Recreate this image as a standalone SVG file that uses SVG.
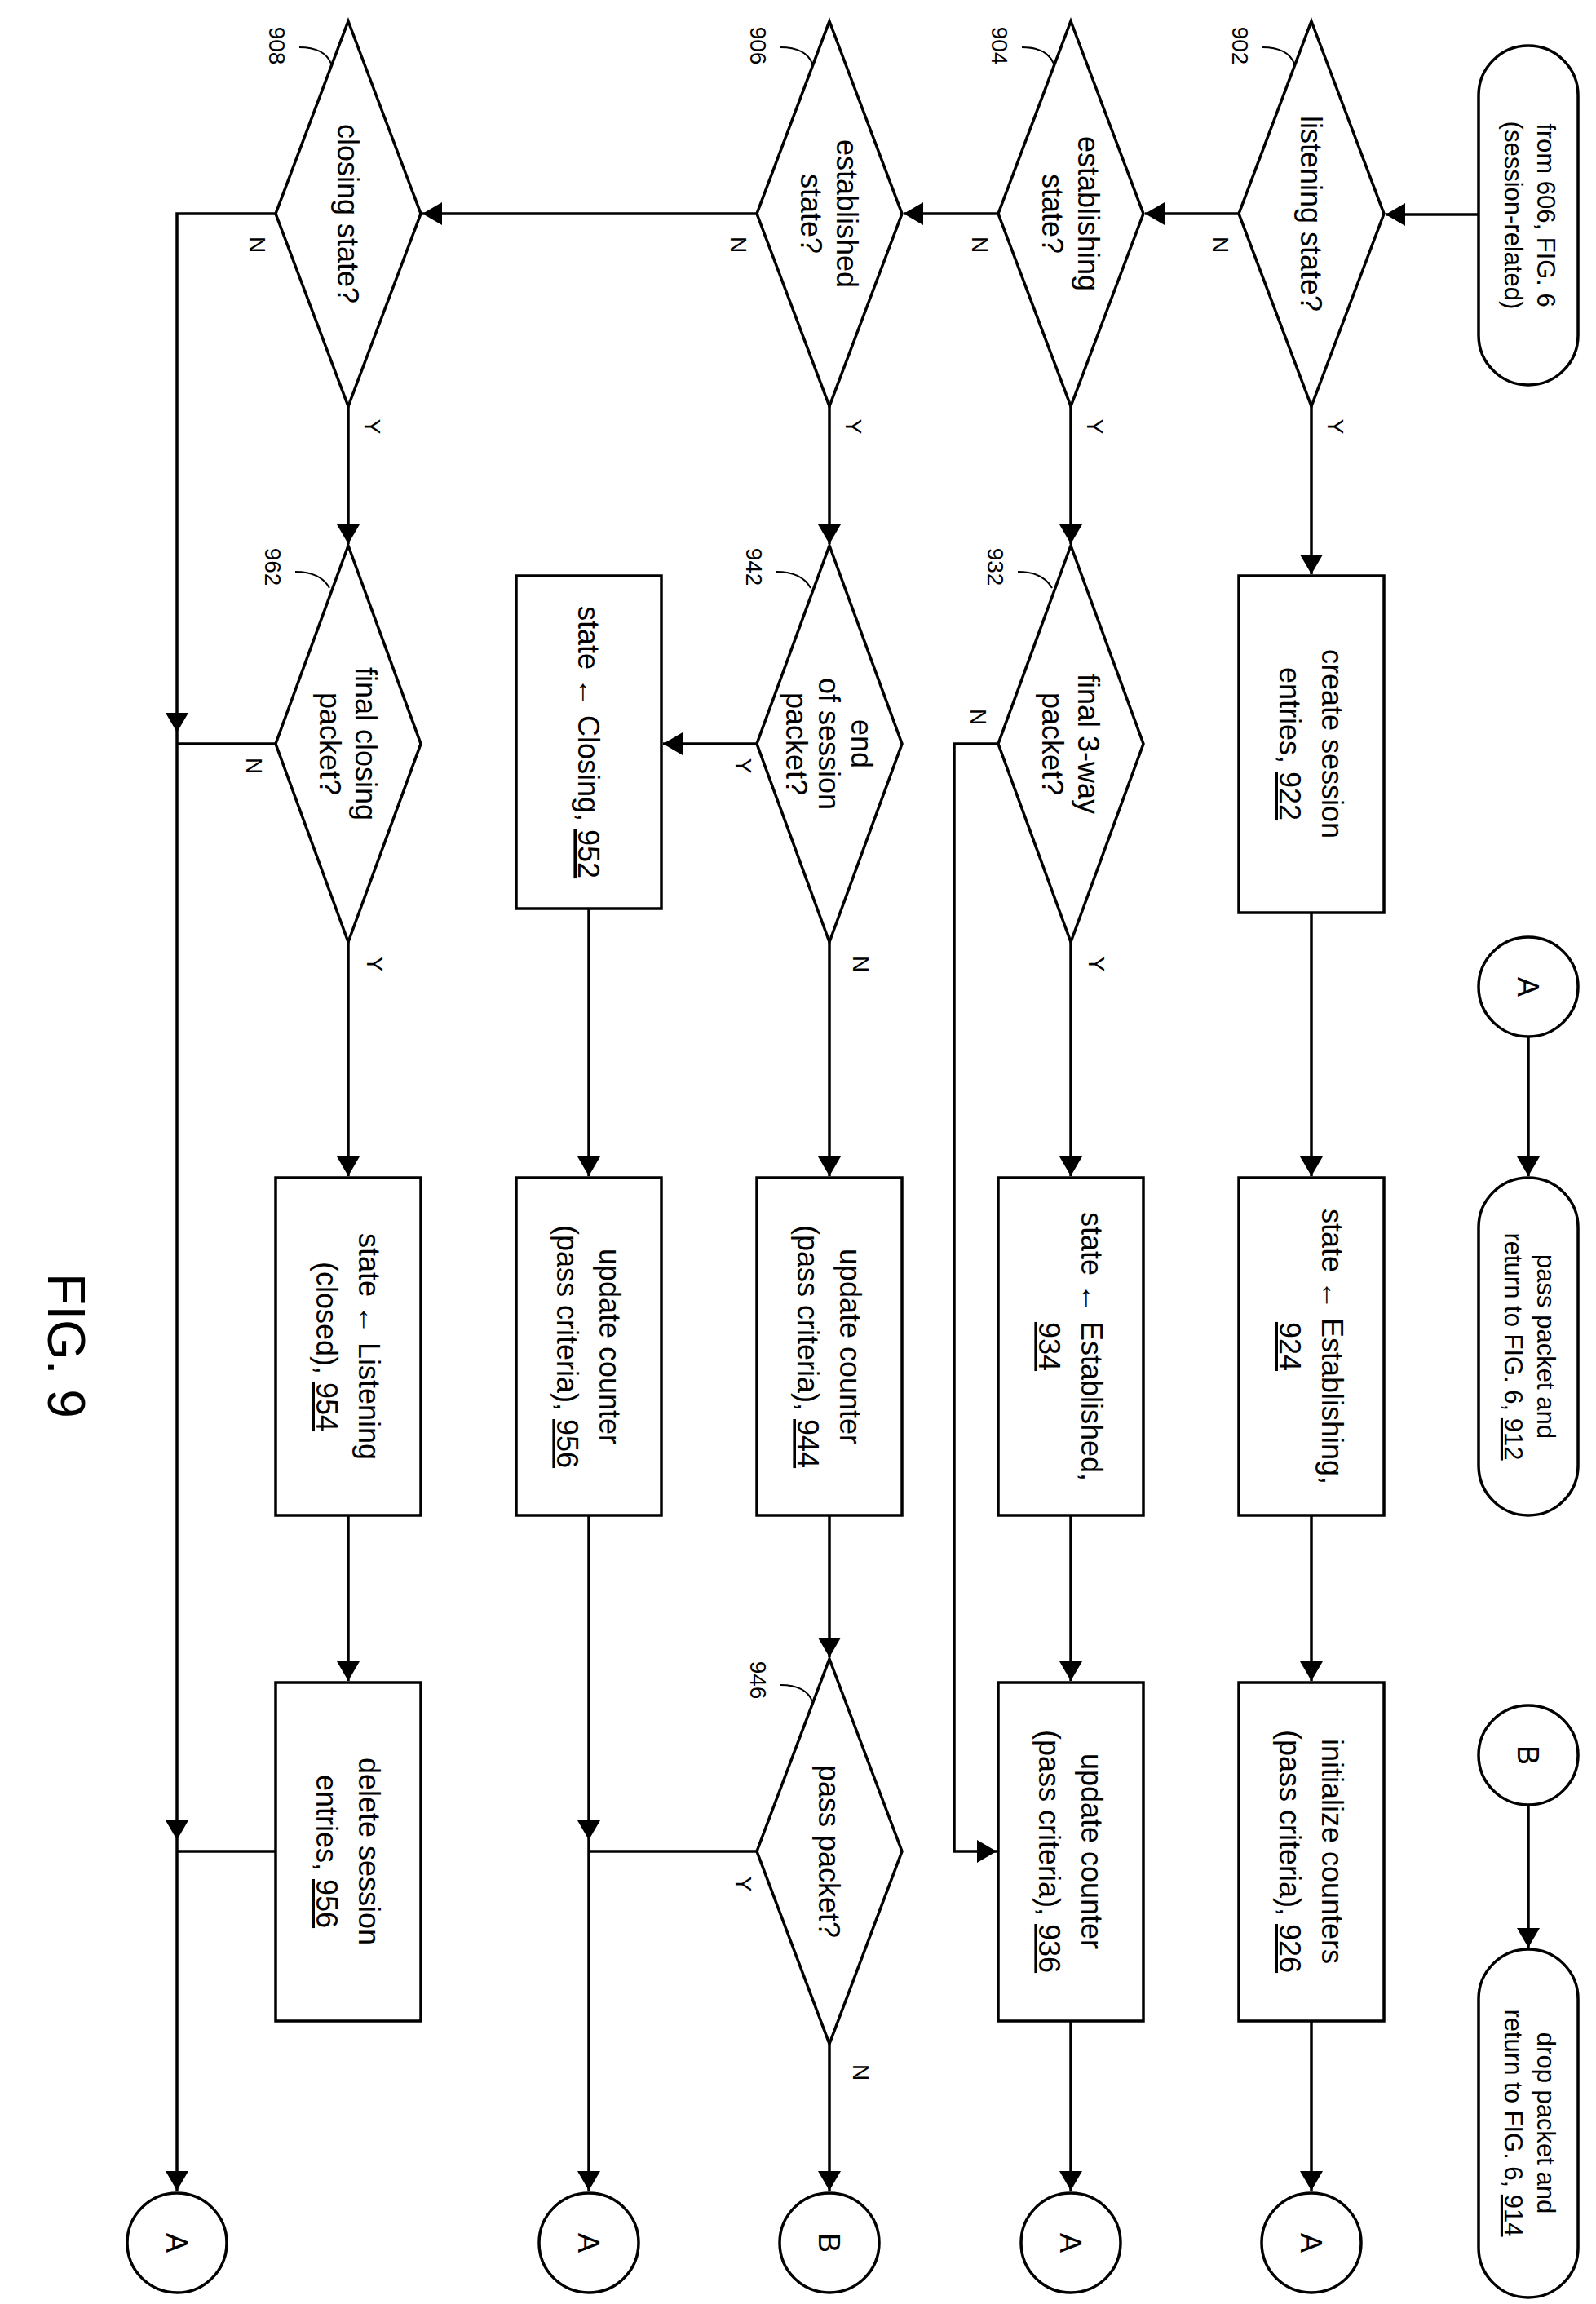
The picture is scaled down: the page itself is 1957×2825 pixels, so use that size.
<svg xmlns="http://www.w3.org/2000/svg" width="1957" height="2825" viewBox="0 0 1957 2825">
<style>
.s{fill:#fff;stroke:#000;stroke-width:3.5}
.c{fill:none;stroke:#000;stroke-width:3.5}
.t{font-family:"Liberation Sans",Arial,sans-serif;font-size:36px;text-anchor:middle;fill:#000}
.tt{font-family:"Liberation Sans",Arial,sans-serif;font-size:31px;text-anchor:middle;fill:#000}
.l{font-family:"Liberation Sans",Arial,sans-serif;font-size:28px;text-anchor:middle;fill:#000}
.u{text-decoration:underline}
.ld{fill:none;stroke:#000;stroke-width:2}
</style>
<defs>
<marker id="ah" markerUnits="userSpaceOnUse" markerWidth="26" markerHeight="30" refX="24" refY="14" orient="auto">
<path d="M0,0 L24,14 L0,28 z" fill="#000"/>
</marker>
</defs>
<rect width="1957" height="2825" fill="#fff"/>
<g transform="translate(1957,0) rotate(90)">
<g id="connectors" class="c">
<path d="M263,144 L263,258" marker-end="url(#ah)"/>
<path d="M498,349 L704,349" marker-end="url(#ah)"/>
<path d="M1119,349 L1442,349" marker-end="url(#ah)"/>
<path d="M1858,349 L2061,349" marker-end="url(#ah)"/>
<path d="M2478,349 L2686,349" marker-end="url(#ah)"/>
<path d="M262,438 L262,553" marker-end="url(#ah)"/>
<path d="M262,733 L262,849" marker-end="url(#ah)"/>
<path d="M262,1029 L262,1439" marker-end="url(#ah)"/>
<path d="M262,1619 L262,1740 L898,1740" marker-end="url(#ah)"/>
<path d="M898,1740 L2256,1740" marker-end="url(#ah)"/>
<path d="M2256,1740 L2686,1740" marker-end="url(#ah)"/>
<path d="M912,1619 L912,1740"/>
<path d="M2270,1619 L2270,1740"/>
<path d="M498,644 L667,644" marker-end="url(#ah)"/>
<path d="M498,940 L667,940" marker-end="url(#ah)"/>
<path d="M498,1530 L667,1530" marker-end="url(#ah)"/>
<path d="M1155,644 L1442,644" marker-end="url(#ah)"/>
<path d="M1858,644 L2061,644" marker-end="url(#ah)"/>
<path d="M2478,644 L2686,644" marker-end="url(#ah)"/>
<path d="M912,733 L912,787 L2270,787 L2270,735" marker-end="url(#ah)"/>
<path d="M912,1029 L912,1144" marker-end="url(#ah)"/>
<path d="M1155,940 L1442,940" marker-end="url(#ah)"/>
<path d="M1858,940 L2032,940" marker-end="url(#ah)"/>
<path d="M2506,940 L2686,940" marker-end="url(#ah)"/>
<path d="M2270,1029 L2270,1235"/>
<path d="M1114,1235 L1442,1235" marker-end="url(#ah)"/>
<path d="M1858,1235 L2256,1235" marker-end="url(#ah)"/>
<path d="M2256,1235 L2686,1235" marker-end="url(#ah)"/>
<path d="M1155,1530 L1442,1530" marker-end="url(#ah)"/>
<path d="M1858,1530 L2061,1530" marker-end="url(#ah)"/>
<path d="M1272,83 L1442,83" marker-end="url(#ah)"/>
<path d="M2214,83 L2388,83" marker-end="url(#ah)"/>
</g>
<g id="labels">
<text class="l" x="523" y="329">Y</text>
<text class="l" x="300" y="470">N</text>
<text class="l" x="523" y="624">Y</text>
<text class="l" x="300" y="765">N</text>
<text class="l" x="523" y="920">Y</text>
<text class="l" x="300" y="1061">N</text>
<text class="l" x="523" y="1510">Y</text>
<text class="l" x="300" y="1651">N</text>
<text class="l" x="1182" y="622">Y</text>
<text class="l" x="879" y="767">N</text>
<text class="l" x="939" y="1055">Y</text>
<text class="l" x="1182" y="911">N</text>
<text class="l" x="939" y="1655">N</text>
<text class="l" x="1182" y="1507">Y</text>
<text class="l" x="2310" y="1055">Y</text>
<text class="l" x="2541" y="911">N</text>
</g>
<g id="start"><rect class="s" x="56" y="22" width="416" height="122" rx="61"/>
<text class="tt" x="264" y="72">from 606, FIG. 6</text><text class="tt" x="264" y="112">(session-related)</text></g>
<g id="n902"><polygon class="s" points="26,349 262,260 498,349 262,438"/><text class="t" x="262" y="362">listening state?</text>
<path class="ld" d="M58,409 Q58,378 78,370"/><text class="l" x="56" y="446">902</text></g>
<g id="n904"><polygon class="s" points="26,644 262,555 498,644 262,733"/><text class="t" x="262" y="635">establishing</text><text class="t" x="262" y="679">state?</text>
<path class="ld" d="M58,704 Q58,673 78,665"/><text class="l" x="56" y="741">904</text></g>
<g id="n906"><polygon class="s" points="26,940 262,851 498,940 262,1029"/><text class="t" x="262" y="931">established</text><text class="t" x="262" y="975">state?</text>
<path class="ld" d="M58,1000 Q58,969 78,961"/><text class="l" x="56" y="1037">906</text></g>
<g id="n908"><polygon class="s" points="26,1530 262,1441 498,1530 262,1619"/><text class="t" x="262" y="1543">closing state?</text>
<path class="ld" d="M58,1590 Q58,1559 78,1551"/><text class="l" x="56" y="1627">908</text></g>
<g id="n922"><rect class="s" x="706" y="260" width="413" height="178"/><text class="t" x="912" y="336">create session</text><text class="t" x="912" y="388">entries, <tspan class="u">922</tspan></text></g>
<g id="n924"><rect class="s" x="1444" y="260" width="414" height="178"/><text class="t" x="1651" y="336">state ← Establishing,</text><text class="t u" x="1651" y="388">924</text></g>
<g id="n926"><rect class="s" x="2063" y="260" width="415" height="178"/><text class="t" x="2270" y="336">initialize counters</text><text class="t" x="2270" y="388">(pass criteria), <tspan class="u">926</tspan></text></g>
<g id="n932"><polygon class="s" points="669,644 912,555 1155,644 912,733"/><text class="t" x="912" y="635">final 3-way</text><text class="t" x="912" y="679">packet?</text>
<path class="ld" d="M701,709 Q701,678 721,667"/><text class="l" x="695" y="746">932</text></g>
<g id="n934"><rect class="s" x="1444" y="555" width="414" height="178"/><text class="t" x="1651" y="631">state ← Established,</text><text class="t u" x="1651" y="683">934</text></g>
<g id="n936"><rect class="s" x="2063" y="555" width="415" height="178"/><text class="t" x="2270" y="631">update counter</text><text class="t" x="2270" y="683">(pass criteria), <tspan class="u">936</tspan></text></g>
<g id="n942"><polygon class="s" points="669,940 912,851 1155,940 912,1029"/><text class="t" x="912" y="913">end</text><text class="t" x="912" y="953">of session</text><text class="t" x="912" y="993">packet?</text>
<path class="ld" d="M701,1005 Q701,974 721,963"/><text class="l" x="695" y="1042">942</text></g>
<g id="n944"><rect class="s" x="1444" y="851" width="414" height="178"/><text class="t" x="1651" y="927">update counter</text><text class="t" x="1651" y="979">(pass criteria), <tspan class="u">944</tspan></text></g>
<g id="n946"><polygon class="s" points="2034,940 2270,851 2506,940 2270,1029"/><text class="t" x="2270" y="953">pass packet?</text>
<path class="ld" d="M2066,1000 Q2066,969 2086,961"/><text class="l" x="2060" y="1037">946</text></g>
<g id="n952"><rect class="s" x="706" y="1146" width="408" height="178"/><text class="t" x="910" y="1248">state ← Closing, <tspan class="u">952</tspan></text></g>
<g id="n956a"><rect class="s" x="1444" y="1146" width="414" height="178"/><text class="t" x="1651" y="1222">update counter</text><text class="t" x="1651" y="1274">(pass criteria), <tspan class="u">956</tspan></text></g>
<g id="n962"><polygon class="s" points="669,1530 912,1441 1155,1530 912,1619"/><text class="t" x="912" y="1521">final closing</text><text class="t" x="912" y="1565">packet?</text>
<path class="ld" d="M701,1595 Q701,1564 721,1553"/><text class="l" x="695" y="1632">962</text></g>
<g id="n954"><rect class="s" x="1444" y="1441" width="414" height="178"/><text class="t" x="1651" y="1517">state ← Listening</text><text class="t" x="1651" y="1569">(closed), <tspan class="u">954</tspan></text></g>
<g id="n956b"><rect class="s" x="2063" y="1441" width="415" height="178"/><text class="t" x="2270" y="1517">delete session</text><text class="t" x="2270" y="1569">entries, <tspan class="u">956</tspan></text></g>
<g id="connA1"><circle class="s" cx="1210" cy="83" r="61"/><text class="t" x="1210" y="96">A</text></g>
<g id="pass"><rect class="s" x="1444" y="22" width="414" height="122" rx="61"/><text class="tt" x="1651" y="72">pass packet and</text><text class="tt" x="1651" y="112">return to FIG. 6, <tspan class="u">912</tspan></text></g>
<g id="connB1"><circle class="s" cx="2152" cy="83" r="61"/><text class="t" x="2152" y="96">B</text></g>
<g id="drop"><rect class="s" x="2390" y="22" width="427" height="122" rx="61"/><text class="tt" x="2603" y="72">drop packet and</text><text class="tt" x="2603" y="112">return to FIG. 6, <tspan class="u">914</tspan></text></g>
<g id="connA2"><circle class="s" cx="2750" cy="349" r="61"/><text class="t" x="2750" y="362">A</text></g>
<g id="connA3"><circle class="s" cx="2750" cy="644" r="61"/><text class="t" x="2750" y="657">A</text></g>
<g id="connB2"><circle class="s" cx="2750" cy="940" r="61"/><text class="t" x="2750" y="953">B</text></g>
<g id="connA4"><circle class="s" cx="2750" cy="1235" r="61"/><text class="t" x="2750" y="1248">A</text></g>
<g id="connA5"><circle class="s" cx="2750" cy="1740" r="61"/><text class="t" x="2750" y="1753">A</text></g>
<text class="t" style="font-size:64px" x="1650" y="1898">FIG. 9</text>
</g>
</svg>
